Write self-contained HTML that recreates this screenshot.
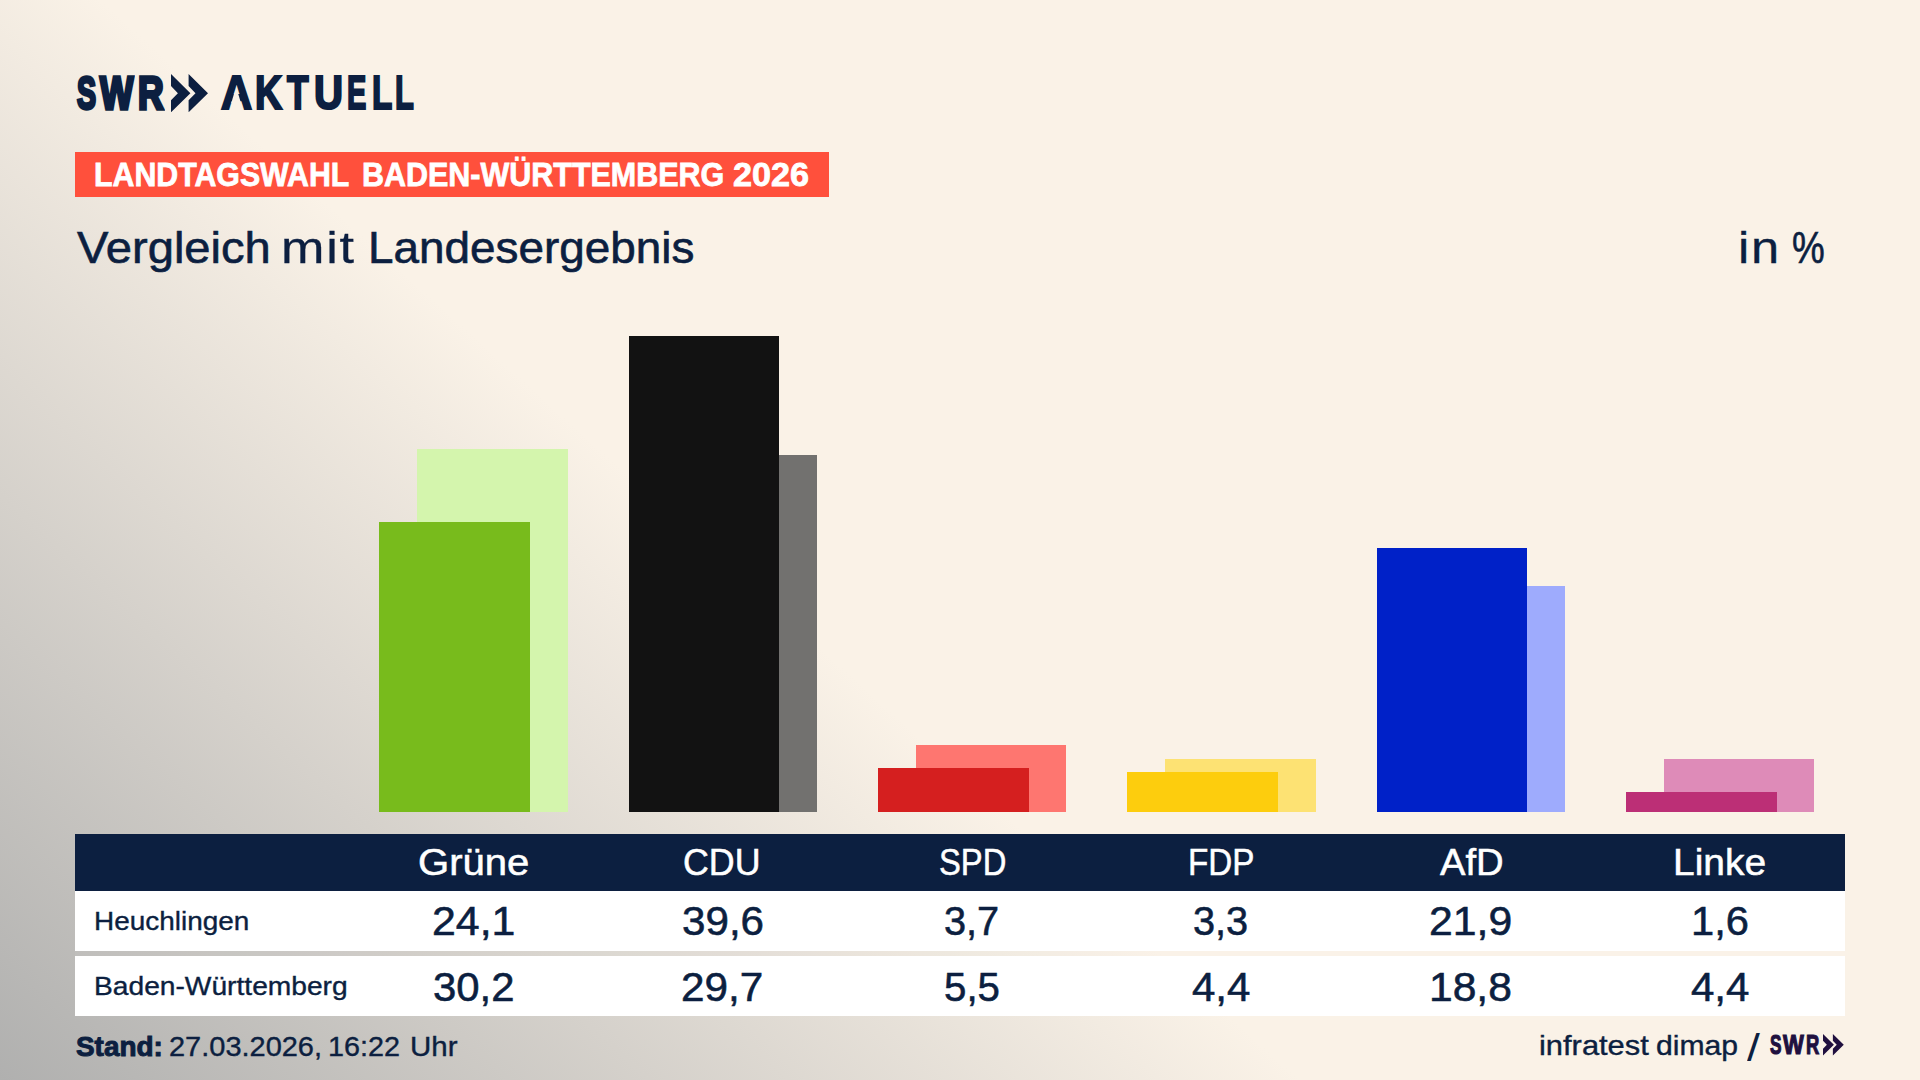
<!DOCTYPE html>
<html lang="de"><head><meta charset="utf-8"><title>SWR Aktuell – Landtagswahl Baden-Württemberg 2026</title>
<style>
html,body{margin:0;padding:0}
body{width:1920px;height:1080px;overflow:hidden;position:relative;background:#faf2e7;font-family:"Liberation Sans",sans-serif;}
#bg{position:absolute;left:0;top:0;width:1920px;height:1080px;background:linear-gradient(42deg,#b0b0af 0,#faf2e7 870px);}
.t{position:absolute;white-space:nowrap;line-height:1;transform-origin:left center;}
.r{position:absolute;}
.l{display:inline-block;width:0;position:relative;transform-origin:left center;line-height:1;}
.g{left:0;font-size:0;margin:0;font-weight:400;}
</style></head><body><div id="bg"></div>

<header id="head">
<div id="logo">
<div class="t" id="swr" style="left:0;top:71.00px;font-size:45.6px;font-weight:700;color:#0c1f40;-webkit-text-stroke:3.4px #0c1f40;"><span class="l" style="left:76.82px;transform:scaleX(0.6270)">S</span><span class="l" style="left:99.82px;transform:scaleX(0.7746)">W</span><span class="l" style="left:138.20px;transform:scaleX(0.7788)">R</span></div>
<svg id="chev1" style="position:absolute;left:171.3px;top:73.6px" width="37.00" height="38.30" viewBox="0 0 37 38.3" fill="#0c1f40"><polygon points="0.00,0.00 19.40,19.15 0.00,38.30 0.00,26.30 6.90,19.15 0.00,12.00"/><polygon points="17.60,0.00 37.00,19.15 17.60,38.30 17.60,26.30 24.50,19.15 17.60,12.00"/></svg>
<div class="t" id="aktuell" style="left:0;top:69.00px;font-size:47.6px;font-weight:700;color:#0c1f40;-webkit-text-stroke:2.2px #0c1f40;"><span class="l" style="left:220.62px;transform:scaleX(0.9019)">A</span><span class="l" style="left:254.92px;transform:scaleX(0.7895)">K</span><span class="l" style="left:287.32px;transform:scaleX(0.7434)">T</span><span class="l" style="left:313.84px;transform:scaleX(0.8451)">U</span><span class="l" style="left:347.16px;transform:scaleX(0.6090)">E</span><span class="l" style="left:371.69px;transform:scaleX(0.6985)">L</span><span class="l" style="left:394.99px;transform:scaleX(0.6476)">L</span></div>
<svg class="r" style="left:230px;top:92px" width="12" height="12"><polygon fill="#faf2e7" points="1.29,10.91 10.96,10.91 8.06,1.20 4.17,1.20"/></svg>
</div>
<div class="r" id="banner" style="left:75px;top:152px;width:754px;height:44.6px;background:#ff503c"></div>
<div class="t g" id="bannertxt" style="top:157.00px"><span class="l" style="left:94.26px;font-size:34px;font-weight:700;color:#fff;transform:scaleX(0.8913);-webkit-text-stroke:0.8px #fff;">LANDTAGSWAHL</span> <span class="l" style="left:362.45px;font-size:34px;font-weight:700;color:#fff;transform:scaleX(0.8964);-webkit-text-stroke:0.8px #fff;">BADEN-WÜRTTEMBERG</span> <span class="l" style="left:733.08px;font-size:34px;font-weight:700;color:#fff;transform:scaleX(1.0063);-webkit-text-stroke:0.8px #fff;">2026</span></div>
<h1 class="t g" id="title" style="top:226.00px"><span class="l" style="left:76.53px;font-size:44.6px;font-weight:400;color:#0c1f40;transform:scaleX(1.0562);-webkit-text-stroke:0.62px #0c1f40;">Vergleich</span> <span class="l" style="left:281.42px;font-size:44.6px;font-weight:400;color:#0c1f40;transform:scaleX(1.1694);letter-spacing:1.5px;-webkit-text-stroke:0.3px #0c1f40;">mit</span> <span class="l" style="left:367.84px;font-size:44.6px;font-weight:400;color:#0c1f40;transform:scaleX(1.0283);-webkit-text-stroke:0.62px #0c1f40;">Landesergebnis</span></h1>
<div class="t g" id="unit" style="top:226.00px"><span class="l" style="left:1737.61px;font-size:44.6px;font-weight:400;color:#0c1f40;transform:scaleX(1.1338);letter-spacing:1.5px;-webkit-text-stroke:0.3px #0c1f40;">in</span> <span class="l" style="left:1792.31px;font-size:44.6px;font-weight:400;color:#0c1f40;transform:scaleX(0.8255);-webkit-text-stroke:0.62px #0c1f40;">%</span></div>
</header>
<section id="chart">
<div class="r" style="left:417px;top:449px;width:151px;height:363px;background:#d4f5ad"></div>
<div class="r" style="left:379px;top:522px;width:151px;height:290px;background:#78bb1c"></div>
<div class="r" style="left:667px;top:455px;width:150px;height:357px;background:#72716f"></div>
<div class="r" style="left:629px;top:336px;width:150px;height:476px;background:#121212"></div>
<div class="r" style="left:916px;top:745px;width:150px;height:67px;background:#fe7670"></div>
<div class="r" style="left:878px;top:768px;width:151px;height:44px;background:#d51f1f"></div>
<div class="r" style="left:1165px;top:759px;width:151px;height:53px;background:#fde273"></div>
<div class="r" style="left:1127px;top:772px;width:151px;height:40px;background:#fdcd0d"></div>
<div class="r" style="left:1415px;top:586px;width:150px;height:226px;background:#9eabfd"></div>
<div class="r" style="left:1377px;top:548px;width:150px;height:264px;background:#0021c8"></div>
<div class="r" style="left:1664px;top:759px;width:150px;height:53px;background:#de8bb8"></div>
<div class="r" style="left:1626px;top:792px;width:151px;height:20px;background:#bc2f76"></div>
</section>
<section id="table">
<div class="r" id="thead" style="left:75px;top:834px;width:1770px;height:57px;background:#0c1f40"></div>
<div class="t" id="p0" style="left:417.61px;top:844.00px;font-size:37px;font-weight:400;color:#fff;transform:scaleX(1.0817);-webkit-text-stroke:0.52px #fff;">Grüne</div>
<div class="t" id="p1" style="left:683.37px;top:844.00px;font-size:37px;font-weight:400;color:#fff;transform:scaleX(0.9666);-webkit-text-stroke:0.52px #fff;">CDU</div>
<div class="t" id="p2" style="left:938.81px;top:844.00px;font-size:37px;font-weight:400;color:#fff;transform:scaleX(0.8846);-webkit-text-stroke:0.52px #fff;">SPD</div>
<div class="t" id="p3" style="left:1188.24px;top:844.00px;font-size:37px;font-weight:400;color:#fff;transform:scaleX(0.8976);-webkit-text-stroke:0.52px #fff;">FDP</div>
<div class="t" id="p4" style="left:1439.87px;top:844.00px;font-size:37px;font-weight:400;color:#fff;transform:scaleX(1.0326);-webkit-text-stroke:0.52px #fff;">AfD</div>
<div class="t" id="p5" style="left:1673.23px;top:844.00px;font-size:37px;font-weight:400;color:#fff;transform:scaleX(1.0522);-webkit-text-stroke:0.52px #fff;">Linke</div>
<div class="r" id="row1" style="left:75px;top:891px;width:1770px;height:60px;background:#fff"></div>
<div class="t" id="lab1" style="left:94.01px;top:908.00px;font-size:26.2px;font-weight:400;color:#0c1f40;transform:scaleX(1.0666);-webkit-text-stroke:0.37px #0c1f40;">Heuchlingen</div>
<div class="t" id="a0" style="left:431.59px;top:901.00px;font-size:41px;font-weight:400;color:#0c1f40;transform:scaleX(1.0445);-webkit-text-stroke:0.57px #0c1f40;">24,1</div>
<div class="t" id="a1" style="left:682.28px;top:901.00px;font-size:41px;font-weight:400;color:#0c1f40;transform:scaleX(1.0281);-webkit-text-stroke:0.57px #0c1f40;">39,6</div>
<div class="t" id="a2" style="left:944.44px;top:901.00px;font-size:41px;font-weight:400;color:#0c1f40;transform:scaleX(0.9685);-webkit-text-stroke:0.57px #0c1f40;">3,7</div>
<div class="t" id="a3" style="left:1193.44px;top:901.00px;font-size:41px;font-weight:400;color:#0c1f40;transform:scaleX(0.9685);-webkit-text-stroke:0.57px #0c1f40;">3,3</div>
<div class="t" id="a4" style="left:1429.09px;top:901.00px;font-size:41px;font-weight:400;color:#0c1f40;transform:scaleX(1.0419);-webkit-text-stroke:0.57px #0c1f40;">21,9</div>
<div class="t" id="a5" style="left:1690.99px;top:901.00px;font-size:41px;font-weight:400;color:#0c1f40;transform:scaleX(1.0161);-webkit-text-stroke:0.57px #0c1f40;">1,6</div>
<div class="r" id="gap" style="left:75px;top:951px;width:1770px;height:5px;background:rgba(255,255,255,.05)"></div>
<div class="r" id="row2" style="left:75px;top:956px;width:1770px;height:60px;background:#fff"></div>
<div class="t" id="lab2" style="left:94.00px;top:973.00px;font-size:26.2px;font-weight:400;color:#0c1f40;transform:scaleX(1.0758);-webkit-text-stroke:0.37px #0c1f40;">Baden-Württemberg</div>
<div class="t" id="b0" style="left:433.38px;top:967.00px;font-size:41px;font-weight:400;color:#0c1f40;transform:scaleX(1.0216);-webkit-text-stroke:0.57px #0c1f40;">30,2</div>
<div class="t" id="b1" style="left:680.61px;top:967.00px;font-size:41px;font-weight:400;color:#0c1f40;transform:scaleX(1.0315);-webkit-text-stroke:0.57px #0c1f40;">29,7</div>
<div class="t" id="b2" style="left:944.42px;top:967.00px;font-size:41px;font-weight:400;color:#0c1f40;transform:scaleX(0.9813);-webkit-text-stroke:0.57px #0c1f40;">5,5</div>
<div class="t" id="b3" style="left:1192.34px;top:967.00px;font-size:41px;font-weight:400;color:#0c1f40;transform:scaleX(1.0250);-webkit-text-stroke:0.57px #0c1f40;">4,4</div>
<div class="t" id="b4" style="left:1429.33px;top:967.00px;font-size:41px;font-weight:400;color:#0c1f40;transform:scaleX(1.0388);-webkit-text-stroke:0.57px #0c1f40;">18,8</div>
<div class="t" id="b5" style="left:1691.34px;top:967.00px;font-size:41px;font-weight:400;color:#0c1f40;transform:scaleX(1.0250);-webkit-text-stroke:0.57px #0c1f40;">4,4</div>
</section>
<footer id="foot">
<div class="t g" id="stand" style="top:1033.00px"><span class="l" style="left:76.16px;font-size:28px;font-weight:700;color:#0c1f40;transform:scaleX(0.9960);-webkit-text-stroke:1.0px #0c1f40;">Stand:</span> <span class="l" style="left:169.14px;font-size:28px;font-weight:400;color:#0c1f40;transform:scaleX(1.0345);-webkit-text-stroke:0.39px #0c1f40;">27.03.2026,</span> <span class="l" style="left:328.20px;font-size:28px;font-weight:400;color:#0c1f40;transform:scaleX(1.0270);-webkit-text-stroke:0.39px #0c1f40;">16:22</span> <span class="l" style="left:409.76px;font-size:28px;font-weight:400;color:#0c1f40;transform:scaleX(1.0523);-webkit-text-stroke:0.39px #0c1f40;">Uhr</span></div>
<div class="t g" id="source" style="top:1029.00px"><span class="l" style="left:1538.79px;font-size:28px;font-weight:400;color:#0c1f40;transform:scaleX(1.1024);top:-6.00px;-webkit-text-stroke:0.39px #0c1f40;">infratest</span> <span class="l" style="left:1656.47px;font-size:28px;font-weight:400;color:#0c1f40;transform:scaleX(1.0758);top:-6.00px;-webkit-text-stroke:0.39px #0c1f40;">dimap</span> <span class="l" style="left:1746.80px;font-size:38px;font-weight:400;color:#0c1f40;transform:scaleX(1.2164);">/</span></div>
<div class="t" id="swr2" style="left:0;top:1031.00px;font-size:27.6px;font-weight:700;color:#20103f;-webkit-text-stroke:1.2px #20103f;"><span class="l" style="left:1769.91px;transform:scaleX(0.6233)">S</span><span class="l" style="left:1783.48px;transform:scaleX(0.7998)">W</span><span class="l" style="left:1806.05px;transform:scaleX(0.6673)">R</span></div>
<svg id="chev2" style="position:absolute;left:1823.1px;top:1034.2px" width="20.77" height="21.50" viewBox="0 0 37 38.3" fill="#20103f"><polygon points="0.00,0.00 19.40,19.15 0.00,38.30 0.00,26.30 6.90,19.15 0.00,12.00"/><polygon points="17.60,0.00 37.00,19.15 17.60,38.30 17.60,26.30 24.50,19.15 17.60,12.00"/></svg>
</footer>
</body></html>
